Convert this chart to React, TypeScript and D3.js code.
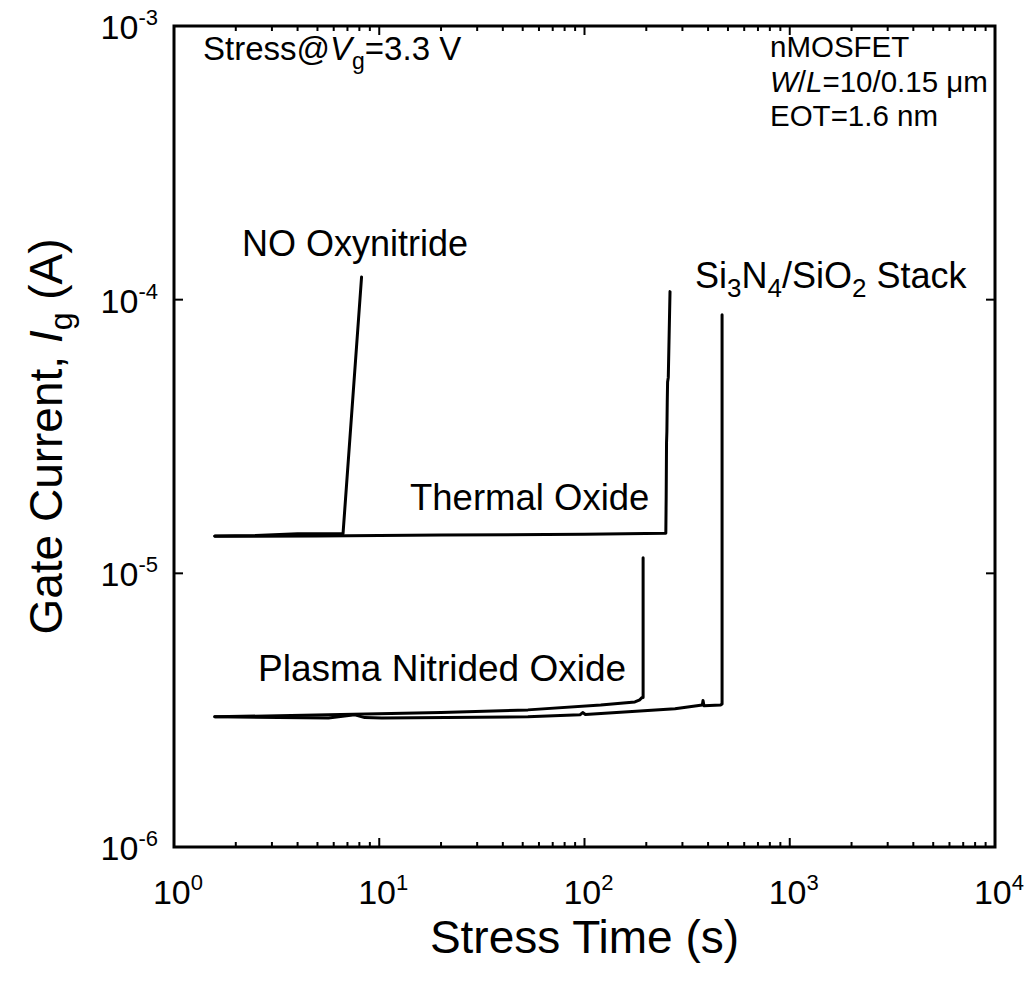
import React from "react";
import * as d3 from "d3";

// Gate-current breakdown traces under constant-voltage stress (Vg = 3.3 V)
const noOxyTime = [1.58, 2.5, 4, 6.66, 8.2];
const noOxyCurrent = [1.37e-5, 1.375e-5, 1.395e-5, 1.395e-5, 1.21e-4];

const thermalTime = [1.58, 5, 20, 100, 249, 250, 251, 252, 253, 254, 256, 261];
const thermalCurrent = [1.365e-5, 1.37e-5, 1.38e-5, 1.39e-5, 1.4e-5, 1.9e-5, 3.0e-5, 3.3e-5, 4.2e-5, 5.0e-5, 5.2e-5, 1.07e-4];

const plasmaTime = [1.58, 5.65, 20, 53, 120, 176, 186, 190, 193, 193];
const plasmaCurrent = [2.99e-6, 3.04e-6, 3.1e-6, 3.17e-6, 3.3e-6, 3.39e-6, 3.45e-6, 3.51e-6, 3.52e-6, 1.14e-5];

const stackTime = [1.58, 5.65, 7.6, 8.5, 10.3, 53, 95, 98, 101, 276, 375, 378, 382, 460, 468, 468];
const stackCurrent = [2.99e-6, 2.96e-6, 3.04e-6, 2.97e-6, 2.96e-6, 2.99e-6, 3.04e-6, 3.1e-6, 3.05e-6, 3.2e-6, 3.3e-6, 3.43e-6, 3.28e-6, 3.3e-6, 3.33e-6, 8.8e-5];

const xDecades = [0, 1, 2, 3, 4];
const yDecades = [-6, -5, -4, -3];

const FONT = "'Liberation Sans', Arial, Helvetica, sans-serif";

const W = 1027;
const H = 982;
const left = 174;
const right = 995;
const top = 26;
const bottom = 847;

export default function App() {
  const x = d3.scaleLog().domain([1, 1e4]).range([left, right]);
  const y = d3.scaleLog().domain([1e-6, 1e-3]).range([bottom, top]);

  const line = d3
    .line<[number, number]>()
    .x((d) => x(d[0]))
    .y((d) => y(d[1]));

  const zip = (t: number[], v: number[]) => t.map((ti, i) => [ti, v[i]] as [number, number]);

  const series = [
    zip(noOxyTime, noOxyCurrent),
    zip(thermalTime, thermalCurrent),
    zip(plasmaTime, plasmaCurrent),
    zip(stackTime, stackCurrent),
  ];

  // minor ticks on the time axis (2..9 within each decade)
  const minorX: number[] = [];
  for (let dcd = 0; dcd < 4; dcd++) {
    for (let m = 2; m <= 9; m++) minorX.push(m * Math.pow(10, dcd));
  }

  const majorLen = 9;
  const minorLen = 5;

  return (
    <svg
      width={W}
      height={H}
      style={{ position: "absolute", left: 0, top: 0, background: "#fff" }}
      fontFamily={FONT}
    >
      <rect x={0} y={0} width={W} height={H} fill="#fff" />

      {/* data traces */}
      {series.map((s, i) => (
        <path
          key={i}
          d={line(s) || ""}
          fill="none"
          stroke="#000"
          strokeWidth={3}
          strokeLinejoin="round"
          strokeLinecap="round"
        />
      ))}

      {/* frame */}
      <rect
        x={left}
        y={top}
        width={right - left}
        height={bottom - top}
        fill="none"
        stroke="#000"
        strokeWidth={3}
      />

      {/* x ticks, top and bottom, pointing inward */}
      {xDecades.map((e) => (
        <g key={"xM" + e}>
          <line x1={x(10 ** e)} x2={x(10 ** e)} y1={bottom} y2={bottom - majorLen} stroke="#000" strokeWidth={2} />
          <line x1={x(10 ** e)} x2={x(10 ** e)} y1={top} y2={top + majorLen} stroke="#000" strokeWidth={2} />
        </g>
      ))}
      {minorX.map((v) => (
        <g key={"xm" + v}>
          <line x1={x(v)} x2={x(v)} y1={bottom} y2={bottom - minorLen} stroke="#000" strokeWidth={2} />
          <line x1={x(v)} x2={x(v)} y1={top} y2={top + minorLen} stroke="#000" strokeWidth={2} />
        </g>
      ))}

      {/* y ticks, left and right, pointing inward */}
      {yDecades.map((e) => (
        <g key={"yM" + e}>
          <line x1={left} x2={left + majorLen} y1={y(10 ** e)} y2={y(10 ** e)} stroke="#000" strokeWidth={2} />
          <line x1={right} x2={right - majorLen} y1={y(10 ** e)} y2={y(10 ** e)} stroke="#000" strokeWidth={2} />
        </g>
      ))}

      {/* x tick labels */}
      {xDecades.map((e) => (
        <text key={"xl" + e} x={x(10 ** e) + 4} y={904} textAnchor="middle" fontSize={34} fill="#000">
          10
          <tspan fontSize={22} dy={-14}>
            {e}
          </tspan>
        </text>
      ))}

      {/* y tick labels */}
      {yDecades.map((e) => (
        <text key={"yl" + e} x={158} y={y(10 ** e) + 13} textAnchor="end" fontSize={34} fill="#000">
          10
          <tspan fontSize={22} dy={-14}>
            {"-" + Math.abs(e)}
          </tspan>
        </text>
      ))}

      {/* axis titles */}
      <text x={(left + right) / 2} y={953} textAnchor="middle" fontSize={46} fill="#000">
        Stress Time (s)
      </text>
      <text
        transform={`translate(62, ${(top + bottom) / 2}) rotate(-90)`}
        textAnchor="middle"
        fontSize={46}
        fill="#000"
      >
        Gate Current,{" "}
        <tspan fontStyle="italic">I</tspan>
        <tspan fontSize={32} dy={10}>
          g
        </tspan>
        <tspan dy={-10}> (A)</tspan>
      </text>

      {/* annotations */}
      <text x={203} y={60} fontSize={33} fill="#000">
        Stress@<tspan fontStyle="italic">V</tspan>
        <tspan fontSize={23} dy={9}>
          g
        </tspan>
        <tspan dy={-9}>=3.3 V</tspan>
      </text>
      <text x={770} y={57} fontSize={29.5} fill="#000">
        nMOSFET
      </text>
      <text x={770} y={92} fontSize={29.5} fill="#000">
        <tspan fontStyle="italic">W</tspan>/<tspan fontStyle="italic">L</tspan>=10/0.15 μm
      </text>
      <text x={770} y={126} fontSize={29.5} fill="#000">
        EOT=1.6 nm
      </text>

      <text x={242} y={256} fontSize={36} fill="#000">
        NO Oxynitride
      </text>
      <text x={410} y={510} fontSize={36.5} fill="#000">
        Thermal Oxide
      </text>
      <text x={258} y={681} fontSize={37} fill="#000">
        Plasma Nitrided Oxide
      </text>
      <text x={695} y={288} fontSize={36} fill="#000">
        Si
        <tspan fontSize={26} dy={9}>3</tspan>
        <tspan dy={-9}>N</tspan>
        <tspan fontSize={26} dy={9}>4</tspan>
        <tspan dy={-9}>/SiO</tspan>
        <tspan fontSize={26} dy={9}>2</tspan>
        <tspan dy={-9}> Stack</tspan>
      </text>
    </svg>
  );
}
